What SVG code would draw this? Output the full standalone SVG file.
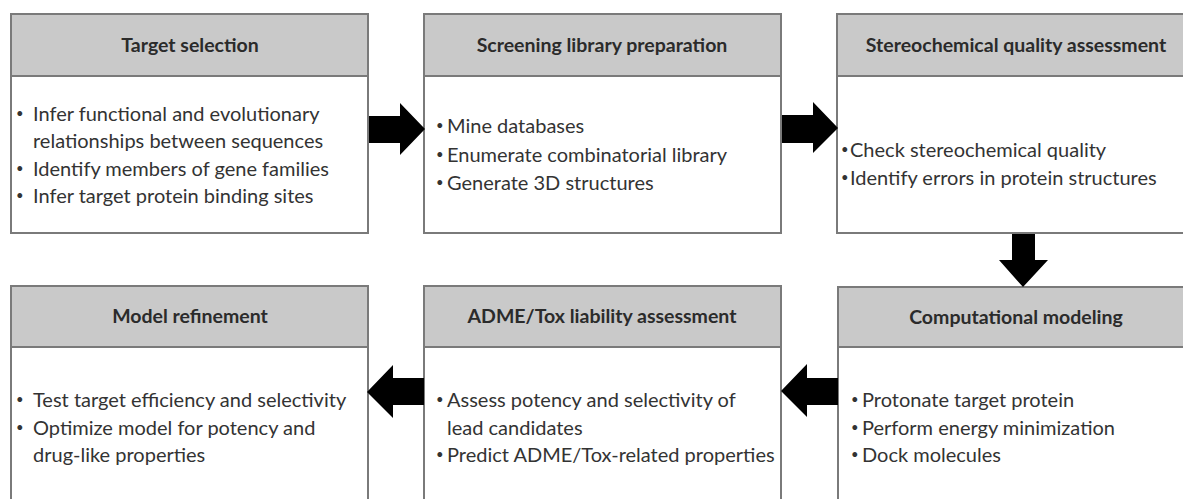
<svg xmlns="http://www.w3.org/2000/svg" width="1183" height="499" viewBox="0 0 1183 499">
<style>
.box{fill:#ffffff;stroke:#7a7a7a;stroke-width:2}
.hdr{fill:#c9c9c9;stroke:#7a7a7a;stroke-width:2}
.ht{font-family:Lato,"Liberation Sans",sans-serif;font-weight:bold;font-size:19.5px;fill:#2b2b2b;text-anchor:middle}
.bt{font-family:Lato,"Liberation Sans",sans-serif;font-size:20px;fill:#333333}
.bu{font-family:Lato,"Liberation Sans",sans-serif;font-size:13px;fill:#333333}
.arr{fill:#000000}
</style>
<rect width="1183" height="499" fill="#ffffff"/>
<g id="target-selection">
<rect class="box" x="11" y="14" width="357" height="219"/>
<rect class="hdr" x="11" y="14" width="357" height="62"/>
<text class="ht" x="190" y="52">Target selection</text>
<text class="bu"><tspan x="16" y="118">•</tspan><tspan x="16" y="173">•</tspan><tspan x="16" y="200">•</tspan></text>
<text class="bt"><tspan x="33" y="121">Infer functional and evolutionary</tspan><tspan x="33" y="148">relationships between sequences</tspan><tspan x="33" y="176">Identify members of gene families</tspan><tspan x="33" y="203">Infer target protein binding sites</tspan></text>
</g>
<g id="screening-library">
<rect class="box" x="424" y="14" width="357" height="219"/>
<rect class="hdr" x="424" y="14" width="357" height="62"/>
<text class="ht" x="602" y="52">Screening library preparation</text>
<text class="bu"><tspan x="436" y="130">•</tspan><tspan x="436" y="159">•</tspan><tspan x="436" y="187">•</tspan></text>
<text class="bt"><tspan x="447" y="133">Mine databases</tspan><tspan x="447" y="162">Enumerate combinatorial library</tspan><tspan x="447" y="190">Generate 3D structures</tspan></text>
</g>
<g id="stereochemical-quality">
<rect class="box" x="837" y="14" width="360" height="219"/>
<rect class="hdr" x="837" y="14" width="360" height="62"/>
<text class="ht" x="1016" y="52">Stereochemical quality assessment</text>
<text class="bu"><tspan x="841" y="154">•</tspan><tspan x="841" y="182">•</tspan></text>
<text class="bt"><tspan x="850" y="157">Check stereochemical quality</tspan><tspan x="850" y="185">Identify errors in protein structures</tspan></text>
</g>
<g id="model-refinement">
<rect class="box" x="11" y="286" width="357" height="230"/>
<rect class="hdr" x="11" y="286" width="357" height="61"/>
<text class="ht" x="190" y="323">Model refinement</text>
<text class="bu"><tspan x="16" y="404">•</tspan><tspan x="16" y="432">•</tspan></text>
<text class="bt"><tspan x="33" y="407">Test target efficiency and selectivity</tspan><tspan x="33" y="435">Optimize model for potency and</tspan><tspan x="33" y="462">drug-like properties</tspan></text>
</g>
<g id="adme-tox">
<rect class="box" x="424" y="286" width="357" height="230"/>
<rect class="hdr" x="424" y="286" width="357" height="61"/>
<text class="ht" x="602" y="323">ADME/Tox liability assessment</text>
<text class="bu"><tspan x="436" y="404">•</tspan><tspan x="436" y="459">•</tspan></text>
<text class="bt"><tspan x="447" y="407">Assess potency and selectivity of</tspan><tspan x="447" y="435">lead candidates</tspan><tspan x="447" y="462">Predict ADME/Tox-related properties</tspan></text>
</g>
<g id="computational-modeling">
<rect class="box" x="838" y="287" width="360" height="230"/>
<rect class="hdr" x="838" y="287" width="360" height="60"/>
<text class="ht" x="1016" y="324">Computational modeling</text>
<text class="bu"><tspan x="851" y="404">•</tspan><tspan x="851" y="432">•</tspan><tspan x="851" y="459">•</tspan></text>
<text class="bt"><tspan x="862" y="407">Protonate target protein</tspan><tspan x="862" y="435">Perform energy minimization</tspan><tspan x="862" y="462">Dock molecules</tspan></text>
</g>
<g id="connectors">
<polygon class="arr" points="369,116 400,116 400,103 425,129 400,155 400,143 369,143"/>
<polygon class="arr" points="782,115 813,115 813,102 838,128 813,153 813,143 782,143"/>
<polygon class="arr" points="1012,234 1035,234 1035,260 1048,260 1023,287 999,260 1012,260"/>
<polygon class="arr" points="424,378 393,378 393,365 367,392 393,418 393,405 424,405"/>
<polygon class="arr" points="838,378 807,378 807,364 781,391 807,417 807,405 838,405"/>
</g>
</svg>
